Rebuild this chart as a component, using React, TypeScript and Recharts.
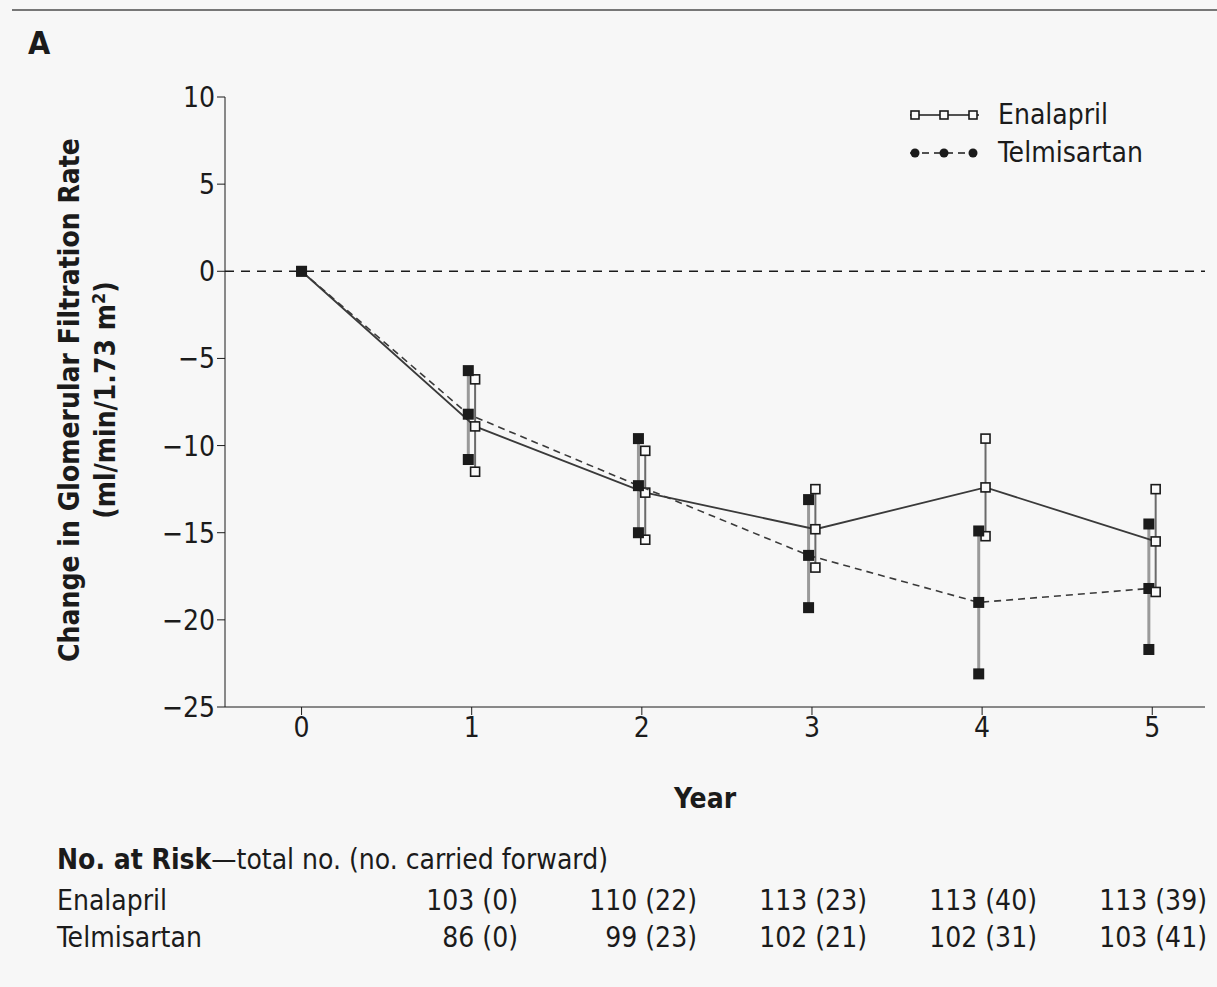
import React from "react";
import {
  ComposedChart,
  Scatter,
  ErrorBar,
  XAxis,
  YAxis,
  ReferenceLine,
} from "recharts";

const FONT = "'Liberation Sans Narrow', 'DejaVu Sans Condensed', 'Open Sans', sans-serif";

const YEARS = [0, 1, 2, 3, 4, 5];
const Y_TICKS = [-25, -20, -15, -10, -5, 0, 5, 10];

const ENA_MEAN = [0, -8.9, -12.7, -14.8, -12.4, -15.5];
const ENA_HIGH = [0, -6.2, -10.3, -12.5, -9.6, -12.5];
const ENA_LOW = [0, -11.5, -15.4, -17.0, -15.2, -18.4];

const TEL_MEAN = [0, -8.2, -12.3, -16.3, -19.0, -18.2];
const TEL_HIGH = [0, -5.7, -9.6, -13.1, -14.9, -14.5];
const TEL_LOW = [0, -10.8, -15.0, -19.3, -23.1, -21.7];

const RISK_ENA = ["103 (0)", "110 (22)", "113 (23)", "113 (40)", "113 (39)"];
const RISK_TEL = ["86 (0)", "99 (23)", "102 (21)", "102 (31)", "103 (41)"];

// small horizontal nudge so the two groups don't sit on top of each other
const NUDGE = 0.02;

function build(mean: number[], high: number[], low: number[], shift: number) {
  return YEARS.map((yr, i) => ({
    x: yr === 0 ? 0 : yr + shift,
    y: mean[i],
    high: i === 0 ? null : high[i],
    low: i === 0 ? null : low[i],
    err: [mean[i] - low[i], high[i] - mean[i]],
  }));
}

const enaData = build(ENA_MEAN, ENA_HIGH, ENA_LOW, NUDGE);
const telData = build(TEL_MEAN, TEL_HIGH, TEL_LOW, -NUDGE);

const FilledSq = (p: any) =>
  p.cx == null || p.cy == null ? null : (
    <rect x={p.cx - 5.5} y={p.cy - 5.5} width={11} height={11} fill="#1b1b1b" />
  );

const OpenSq = (p: any) =>
  p.cx == null || p.cy == null ? null : (
    <rect
      x={p.cx - 4.5}
      y={p.cy - 4.5}
      width={9}
      height={9}
      fill="#fafafa"
      stroke="#1b1b1b"
      strokeWidth={1.6}
    />
  );

const fmt = (v: number) => (v < 0 ? "\u2212" + Math.abs(v) : String(v));

const RISK_X = [518, 697, 867, 1037, 1207];

export default function App() {
  return (
    <div
      style={{
        position: "absolute",
        left: 0,
        top: 0,
        width: 1217,
        height: 987,
        background: "#f7f7f7",
        fontFamily: FONT,
        color: "#1b1b1b",
        overflow: "hidden",
      }}
    >
      <div style={{ position: "absolute", left: 12, right: 0, top: 9, height: 2, background: "#777" }} />
      <div style={{ position: "absolute", left: 28, top: 24, fontSize: 32, fontWeight: 700 }}>A</div>

      <ComposedChart
        width={1217}
        height={987}
        margin={{ top: 97, right: 12, bottom: 220, left: 165 }}
        style={{ position: "absolute", left: 0, top: 0 }}
      >
        <XAxis
          type="number"
          dataKey="x"
          domain={[-0.45, 5.31]}
          ticks={YEARS}
          allowDataOverflow
          height={60}
          tickSize={8}
          stroke="#1b1b1b"
          tick={{ fill: "#1b1b1b", fontSize: 28, fontFamily: FONT }}
        />
        <YAxis
          type="number"
          domain={[-25, 10]}
          ticks={Y_TICKS}
          allowDataOverflow
          width={60}
          tickSize={8}
          stroke="#1b1b1b"
          tickFormatter={fmt}
          tick={{ fill: "#1b1b1b", fontSize: 28, fontFamily: FONT }}
        />
        <ReferenceLine y={0} stroke="#1b1b1b" strokeWidth={1.6} strokeDasharray="9 7" />

        <Scatter
          data={enaData}
          dataKey="y"
          isAnimationActive={false}
          line={{ stroke: "#3a3a3a", strokeWidth: 1.8 }}
          lineType="joint"
          shape={OpenSq}
        >
          <ErrorBar dataKey="err" direction="y" width={0} stroke="#6a6a6a" strokeWidth={2} />
        </Scatter>
        <Scatter
          data={telData}
          dataKey="y"
          isAnimationActive={false}
          line={{ stroke: "#3a3a3a", strokeWidth: 1.6, strokeDasharray: "7 5" }}
          lineType="joint"
          shape={FilledSq}
        >
          <ErrorBar dataKey="err" direction="y" width={0} stroke="#9a9a9a" strokeWidth={3} />
        </Scatter>
        <Scatter data={enaData} dataKey="high" isAnimationActive={false} shape={OpenSq} />
        <Scatter data={enaData} dataKey="low" isAnimationActive={false} shape={OpenSq} />
        <Scatter data={telData} dataKey="high" isAnimationActive={false} shape={FilledSq} />
        <Scatter data={telData} dataKey="low" isAnimationActive={false} shape={FilledSq} />
      </ComposedChart>

      {/* y axis title */}
      <svg width={140} height={700} style={{ position: "absolute", left: 37, top: 50 }}>
        <text
          transform="translate(42,350) rotate(-90)"
          textAnchor="middle"
          fontSize={28}
          fontWeight={700}
          fill="#1b1b1b"
          fontFamily={FONT}
        >
          Change in Glomerular Filtration Rate
        </text>
        <text
          transform="translate(78,350) rotate(-90)"
          textAnchor="middle"
          fontSize={28}
          fontWeight={700}
          fill="#1b1b1b"
          fontFamily={FONT}
        >
          (ml/min/1.73 m<tspan fontSize={18} dy={-10}>2</tspan>
          <tspan dy={10}>)</tspan>
        </text>
      </svg>

      <div style={{ position: "absolute", left: 0, width: 1410, textAlign: "center", top: 782, fontSize: 28, fontWeight: 700 }}>
        Year
      </div>

      {/* legend */}
      <svg width={80} height={70} style={{ position: "absolute", left: 905, top: 98 }}>
        <line x1={5} x2={74} y1={17} y2={17} stroke="#1b1b1b" strokeWidth={1.6} />
        {[10, 39, 68].map((x) => (
          <rect key={x} x={x - 4} y={13} width={8} height={8} fill="#fafafa" stroke="#1b1b1b" strokeWidth={1.6} />
        ))}
        <line x1={5} x2={74} y1={55} y2={55} stroke="#1b1b1b" strokeWidth={1.6} strokeDasharray="7 5" />
        {[10, 39, 68].map((x) => (
          <circle key={x} cx={x} cy={55} r={4.5} fill="#1b1b1b" />
        ))}
      </svg>
      <div style={{ position: "absolute", left: 998, top: 96, fontSize: 28, lineHeight: "38px" }}>
        <div>Enalapril</div>
        <div>Telmisartan</div>
      </div>

      {/* numbers at risk */}
      <div style={{ position: "absolute", left: 57, top: 843, fontSize: 28, whiteSpace: "nowrap" }}>
        <b>No. at Risk</b>—total no. (no. carried forward)
      </div>
      <div style={{ position: "absolute", left: 57, top: 884, fontSize: 28 }}>Enalapril</div>
      <div style={{ position: "absolute", left: 57, top: 921, fontSize: 28 }}>Telmisartan</div>
      {RISK_ENA.map((t, i) => (
        <div key={"e" + i} style={{ position: "absolute", right: 1217 - RISK_X[i], top: 884, fontSize: 28, whiteSpace: "nowrap" }}>
          {t}
        </div>
      ))}
      {RISK_TEL.map((t, i) => (
        <div key={"t" + i} style={{ position: "absolute", right: 1217 - RISK_X[i], top: 921, fontSize: 28, whiteSpace: "nowrap" }}>
          {t}
        </div>
      ))}
    </div>
  );
}
